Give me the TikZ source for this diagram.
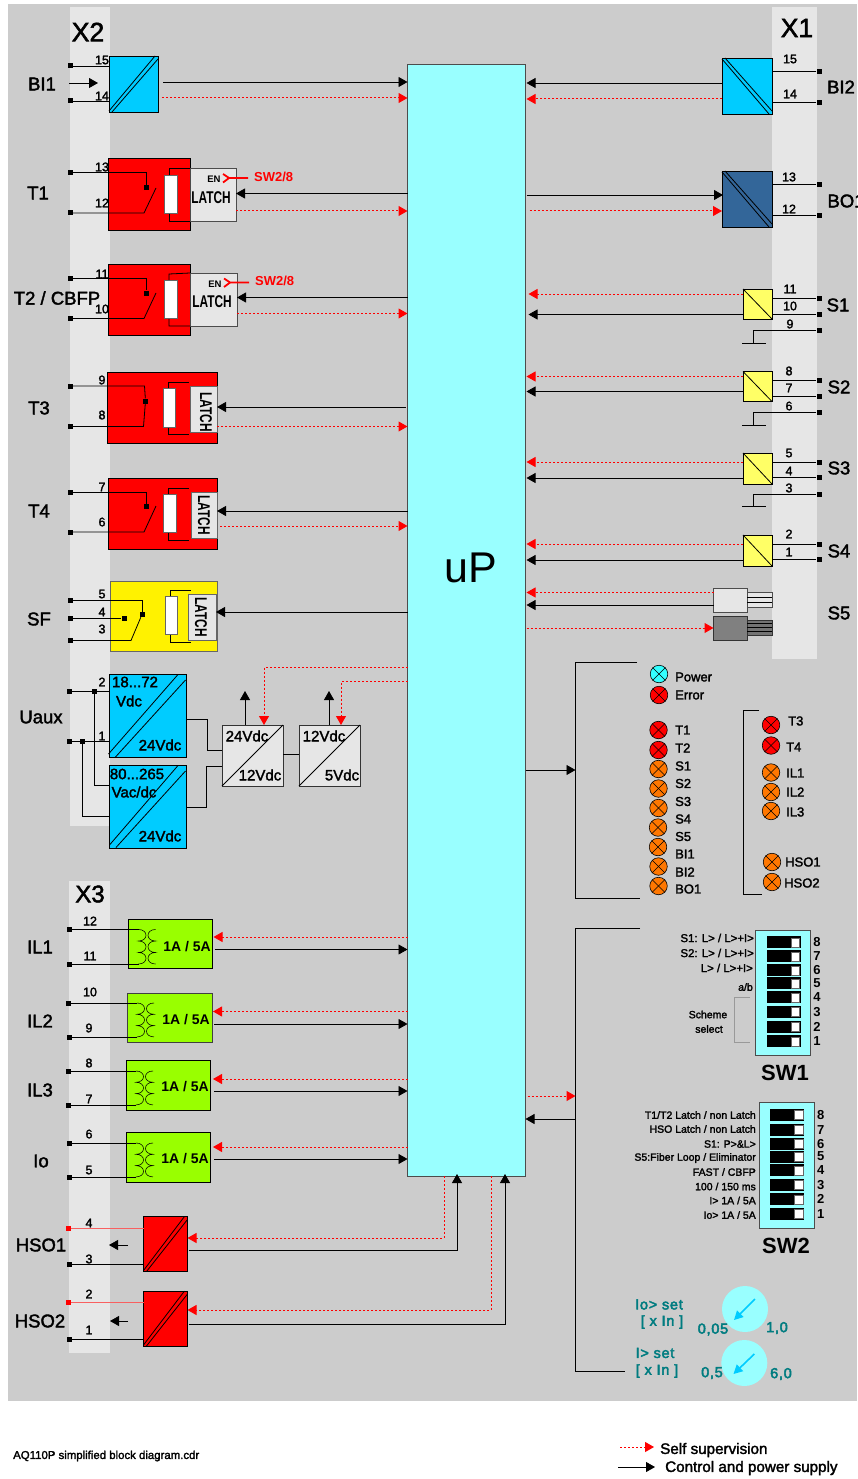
\documentclass[tikz,border=0pt]{standalone}
\usepackage{fontspec}
\setmainfont{Liberation Sans}
\newfontfamily\rg[FakeBold=2]{Liberation Sans}
\newfontfamily\dl[FakeBold=3,LetterSpace=5]{Liberation Sans}
\usetikzlibrary{arrows.meta}
\definecolor{bggray}{HTML}{CCCCCC}
\definecolor{strip}{HTML}{E6E6E6}
\definecolor{upc}{HTML}{99FFFF}
\definecolor{bluec}{HTML}{00CCFF}
\definecolor{navyc}{HTML}{336699}
\definecolor{yelc}{HTML}{FFFF66}
\definecolor{grn}{HTML}{99FF00}
\definecolor{oran}{HTML}{FF7700}
\definecolor{cyanl}{HTML}{33FFFF}
\definecolor{teal2}{HTML}{007C80}
\definecolor{pinkl}{HTML}{F86060}
\newcount\lblcnt
\newcommand{\bx}[6]{\pgfmathsetmacro\bxw{#5-#3}\pgfmathsetmacro\bxh{#6-#4}\node[#2,minimum width=\bxw pt,minimum height=\bxh pt,inner sep=0pt,outer sep=0pt] (#1) at ({(#3+#5)/2},{(#4+#6)/2}) {};}
\newcommand{\lbl}[4]{\global\advance\lblcnt by 1 \node[#1] (txt\the\lblcnt) at (#2,#3) {#4};}
\newcommand{\dblf}[2]{% double "/" diagonal
 \draw[wire] ([yshift=1pt]#1.south west) -- ([xshift=-#2 pt]#1.north east);
 \draw[wire] ([xshift=#2 pt]#1.south west) -- ([yshift=-#2 pt]#1.north east);}
\newcommand{\dblb}[2]{% double "\" diagonal
 \draw[wire] ([yshift=-1pt]#1.north west) -- ([xshift=-#2 pt]#1.south east);
 \draw[wire] ([xshift=#2 pt]#1.north west) -- ([yshift=#2 pt]#1.south east);}
\newcommand{\coil}[3]{% x, y1, bump height
 \draw[thinw] (#1,#2) .. controls +(10,0) and +(10,0) .. ++(0,#3) .. controls +(10,0) and +(10,0) .. ++(0,#3) .. controls +(10,0) and +(10,0) .. ++(0,#3);
 \draw[thinw] (#1+17,#2) .. controls +(-10,0) and +(-10,0) .. ++(0,#3) .. controls +(-10,0) and +(-10,0) .. ++(0,#3) .. controls +(-10,0) and +(-10,0) .. ++(0,#3);}
\newcommand{\led}[4]{\node[ledst,fill=#2] (#1) at (#3,#4) {};
 \draw[thinw] (#1.45) -- (#1.225); \draw[thinw] (#1.135) -- (#1.-45);}
\newcommand{\gnd}[3]{% name, terminal, y
 \coordinate (#1a) at (753,#3); \coordinate (#1b) at (742,#3); \coordinate (#1c) at (766,#3);
 \draw[wire] (#2) -- (#2 -| #1a) -- (#1a); \draw[wire] (#1b) -- (#1c);}
\tikzset{
 wire/.style={line width=.8pt,draw=black},
 thinw/.style={line width=.55pt,draw=black},
 ctl/.style={line width=.8pt,draw=black,-{Triangle[length=9pt,width=10pt]}},
 supv/.style={line width=1pt,draw=red,dash pattern=on 2pt off 2pt,-{Triangle[length=9pt,width=10pt,fill=red]}},
 term/.style={fill=black,inner sep=0pt,minimum size=5pt},
 rterm/.style={fill=red,inner sep=0pt,minimum size=5pt},
 ledst/.style={circle,draw=black,line width=.6pt,minimum size=17.5pt,inner sep=0pt},
 stripbox/.style={fill=strip},
 pbox/.style={draw=black,line width=.8pt},
 num/.style={font=\fontsize{12.5}{14}\selectfont\rg,inner sep=0pt},
 big/.style={font=\fontsize{18.5}{20}\selectfont\rg,inner sep=0pt},
 hdr/.style={font=\fontsize{26.5}{28}\selectfont\rg,inner sep=0pt},
 vtxt/.style={font=\fontsize{15}{16}\selectfont\rg,inner sep=0pt},
 ledt/.style={font=\fontsize{13}{14}\selectfont\rg,inner sep=0pt,anchor=west},
 swt/.style={font=\fontsize{10.5}{12}\selectfont\rg,inner sep=0pt,anchor=east},
 swu/.style={font=\fontsize{11.4}{12}\selectfont\rg,inner sep=0pt,anchor=east},
 swh/.style={font=\fontsize{22}{24}\selectfont\bfseries,inner sep=0pt},
 dialt/.style={font=\fontsize{14.5}{16}\selectfont\dl,text=teal2,inner sep=0pt},
 ent/.style={font=\fontsize{9.5}{10}\selectfont\bfseries,inner sep=0pt},
 swr/.style={font=\fontsize{13}{14}\selectfont\bfseries,text=red,inner sep=0pt,anchor=west},
 lat/.style={font=\fontsize{17}{18}\selectfont,inner sep=0pt},
 amp/.style={font=\fontsize{14}{16}\selectfont\bfseries,inner sep=0pt},
 enw/.style={draw=red,line width=1.8pt},
 togb/.style={fill=black,minimum width=34pt,minimum height=12pt,inner sep=0pt},
 knob/.style={fill=white,draw=black!60,line width=.4pt,minimum width=8.5pt,minimum height=9pt,inner sep=0pt},
 dial/.style={circle,fill=upc,minimum size=46pt,inner sep=0pt},
 dialar/.style={line width=1.6pt,draw=bluec,-{Triangle[length=9pt,width=9pt,fill=bluec]}},
 foot/.style={font=\fontsize{11.4}{12}\selectfont\rg,inner sep=0pt,anchor=west},
 legd/.style={font=\fontsize{15.2}{16}\selectfont\rg,inner sep=0pt,anchor=west},
}
\newcommand{\latch}{\scalebox{0.7}[1]{\bfseries LATCH}}
\begin{document}
\begin{tikzpicture}[x=1pt,y=-1pt]
\useasboundingbox (0,0) rectangle (857,1479);
\fill[white] (0,0) rectangle (857,1479);
\bx{bg}{fill=bggray}{8}{4}{857}{1401}
\bx{xtwo}{stripbox}{70}{7}{110}{826}
\bx{xone}{stripbox}{772}{7}{817}{659}
\bx{xthree}{stripbox}{69}{881}{110}{1353}
\lbl{hdr}{88}{32}{X2}
\lbl{hdr}{797}{28}{X1}
\lbl{hdr,font=\fontsize{24}{26}\selectfont\rg}{90}{894}{X3}
% uP
\node[fill=upc,draw=black!70,line width=.8pt,minimum width=118pt,minimum height=1112pt,inner sep=0pt,outer sep=0pt] (up) at (466.5,620) {};
\node[font=\fontsize{43}{45}\selectfont,inner sep=0pt] (uplab) at (471,568) {uP};

% BI1
\bx{bia}{pbox,fill=bluec}{109}{56}{158}{112}
\dblf{bia}{3}
\node[term] (t15) at (70,66) {};
\node[term] (t14) at (70,101) {};
\draw[wire] (t15) -- (t15 -| bia.west);
\draw[wire] (t14) -- (t14 -| bia.west);
\lbl{num}{102}{60}{15}
\lbl{num}{102}{96}{14}
\lbl{big}{42}{84}{BI1}
\coordinate (biin) at (69,83);
\coordinate (biin2) at (98,83);
\draw[ctl] (biin) -- (biin2);
\draw[ctl] ([xshift=5pt]bia.east |- 0,82) -- (up.west |- 0,82);
\draw[supv] ([xshift=4pt]bia.east |- 0,98) -- (up.west |- 0,98);

% T1
\bx{ta}{pbox,fill=red}{108}{158}{190}{230}
\bx{la}{pbox,draw=black!70,fill=strip}{190}{168}{236}{221}
\draw[wire] (la.north west) -- (169,168) -- (169,221) -- (la.south west);
\bx{ca}{draw=black!60,fill=white,line width=.6pt}{164}{175}{177}{213}
\node[term,minimum size=5pt] (ka) at (146,187.5) {};
\node[term] (t13) at (70,172.5) {};
\node[term] (t12) at (70,213) {};
\draw[wire] (t13) -- (t13 -| ka) -- (ka);
\coordinate (sa) at (156,188);
\draw[wire] (t12) -- (144,213) -- (sa);
\lbl{num}{102}{167}{13}
\lbl{num}{102}{203}{12}
\lbl{big}{38}{193}{T1}
\lbl{ent}{214}{179}{EN}
\lbl{lat}{211}{198}{\latch}
\node[swr] (swa) at (254,177) {SW2/8};
\coordinate (ena) at (229,178);
\draw[enw] (swa.west |- ena) ++(-6,0) -- (ena) -- (223,174);
\draw[enw] (ena) -- (223,182.5);
\draw[ctl] (up.west |- 0,193.5) -- (la.east |- 0,193.5);
\draw[supv] (la.east |- 0,211) -- (up.west |- 0,211);

% T2
\bx{tb}{pbox,fill=red}{108}{264}{190}{335}
\bx{lb}{pbox,draw=black!70,fill=strip}{190}{273}{237}{326}
\draw[wire] (lb.north west) -- (169,274) -- (169,326) -- (lb.south west);
\bx{cb}{draw=black!60,fill=white,line width=.6pt}{164}{280}{177}{318}
\node[term] (kb) at (146,293) {};
\node[term] (t11) at (70,278) {};
\node[term] (t10) at (70,318.5) {};
\draw[wire] (t11) -- (t11 -| kb) -- (kb);
\coordinate (sb) at (156,293);
\draw[wire] (t10) -- (144,318.5) -- (sb);
\lbl{num}{102}{274}{11}
\lbl{num}{102}{309}{10}
\lbl{big}{57}{298}{T2 / CBFP}
\lbl{ent}{215}{284}{EN}
\lbl{lat}{212}{302}{\latch}
\node[swr] (swb) at (255,281) {SW2/8};
\coordinate (enb) at (230,282.5);
\draw[enw] (swb.west |- enb) ++(-6,0) -- (enb) -- (224,278.5);
\draw[enw] (enb) -- (224,287);
\draw[ctl] (up.west |- 0,297.5) -- (lb.east |- 0,297.5);
\draw[supv] (lb.east |- 0,313.5) -- (up.west |- 0,313.5);

% T3
\bx{tc}{pbox,fill=red}{107}{372}{217}{443}
\bx{lc}{draw=black!60,fill=strip,line width=.8pt}{190}{386}{217}{432}
\draw[wire] (189,382) -- (168,382) -- (168,434) -- (189,434);
\bx{cc}{draw=black!60,fill=white,line width=.6pt}{163}{388}{175}{427}
\node[term] (kc) at (145.5,401) {};
\node[term] (t9) at (70,386) {};
\node[term] (t8) at (70,426.5) {};
\draw[wire] (t9) -- (144.5,386) -- (kc);
\draw[wire] (t8) -- (143.5,426.5) -- (kc);
\lbl{num}{102}{380}{9}
\lbl{num}{102}{415}{8}
\lbl{big}{39}{408}{T3}
\lbl{lat,rotate=-90}{206}{412}{\latch}
\draw[ctl] ([xshift=-2pt]up.west |- 0,407) -- (lc.east |- 0,407);
\draw[supv] (lc.east |- 0,426.5) -- (up.west |- 0,426.5);

% T4
\bx{td}{pbox,fill=red}{108}{478}{217}{549}
\bx{ld}{draw=black!60,fill=strip,line width=.8pt}{191}{492}{217}{538}
\draw[wire] (189,488) -- (168,488) -- (168,540) -- (189,540);
\bx{cd}{draw=black!60,fill=white,line width=.6pt}{163}{494}{176}{532}
\node[term] (kd) at (146,506.5) {};
\node[term] (t7) at (70,492) {};
\node[term] (t6) at (70.5,532) {};
\draw[wire] (t7) -- (t7 -| kd) -- (kd);
\coordinate (sd) at (156,506);
\draw[wire] (t6) -- (144,532) -- (sd);
\lbl{num}{102}{487}{7}
\lbl{num}{102}{522}{6}
\lbl{big}{39}{511}{T4}
\lbl{lat,rotate=-90}{204}{515}{\latch}
\draw[ctl] (up.west |- 0,511) -- (ld.east |- 0,511);
\draw[supv] ([xshift=3pt]ld.east |- 0,526) -- (up.west |- 0,526);

% SF
\bx{te}{draw=black!60,fill=yellow,line width=.8pt}{110}{581}{217}{651}
\bx{le}{draw=black!60,fill=strip,line width=.8pt}{188}{594}{216}{640}
\draw[wire] (191,590) -- (170,590) -- (170,642) -- (191,642);
\bx{ce}{draw=black!60,fill=white,line width=.6pt}{165}{596}{177}{634}
\node[term] (ke) at (142,614.5) {};
\node[term] (kf) at (124,618.5) {};
\node[term] (t5) at (70,600) {};
\node[term] (t4) at (70,618.5) {};
\node[term] (t3) at (70,640.5) {};
\draw[wire] (t5) -- (t5 -| ke) -- (ke);
\draw[wire] (t4) -- (kf);
\draw[wire] (t3) -- (131,640.5) -- (ke);
\lbl{num}{102}{594}{5}
\lbl{num}{102}{612}{4}
\lbl{num}{102}{629}{3}
\lbl{big}{39}{619}{SF}
\lbl{lat,rotate=-90}{201}{617}{\latch}
\draw[ctl] (up.west |- 0,612) -- (le.east |- 0,612);

% Uaux
\bx{ua}{pbox,fill=bluec}{109}{674}{186}{757}
\bx{ub}{pbox,fill=bluec}{109}{765}{186}{848}
\draw[wire] (108.5,754) -- (178,674.5);
\draw[wire] (115.5,757) -- (185.5,680);
\draw[wire] (109.5,845) -- (178,765.5);
\draw[wire] (116,847.5) -- (185.5,771);
\node[term] (t2u) at (69,691) {};
\node[term] (t1u) at (69,741.5) {};
\node[term] (ja) at (94,691) {};
\node[term] (jb) at (82.5,741.5) {};
\draw[wire] (t2u) -- (t2u -| ua.west);
\draw[wire] (t1u) -- (t1u -| ua.west);
\draw[wire] (ja) -- (94,785) -- (ub.west |- 0,785);
\draw[wire] (jb) -- (82.5,816) -- (ub.west |- 0,816);
\lbl{num}{102}{682}{2}
\lbl{num}{102}{736}{1}
\lbl{big}{41}{717}{Uaux}
\lbl{vtxt}{135}{682}{18...72}
\lbl{vtxt}{129}{701}{Vdc}
\lbl{vtxt}{160}{745}{24Vdc}
\lbl{vtxt}{137}{774}{80...265}
\lbl{vtxt}{134}{792}{Vac/dc}
\lbl{vtxt}{160}{836}{24Vdc}
\bx{va}{draw=black!80,fill=strip,line width=.8pt}{222}{725}{283}{786}
\bx{vb}{draw=black!80,fill=strip,line width=.8pt}{299}{725}{360}{786}
\draw[wire] (va.south west) -- (va.north east);
\draw[wire] (vb.south west) -- (vb.north east);
\lbl{vtxt}{247}{736}{24Vdc}
\lbl{vtxt}{260}{775}{12Vdc}
\lbl{vtxt}{324}{736}{12Vdc}
\lbl{vtxt}{342}{775}{5Vdc}
\draw[wire] (ua.east |- 0,719) -- (207,719) -- (207,750) -- (va.west |- 0,750);
\draw[wire] (ub.east |- 0,807) -- (206,807) -- (206,766) -- (va.west |- 0,766);
\draw[wire] (va.east |- 0,754) -- (vb.west |- 0,754);
\coordinate (upa) at (245,691);
\coordinate (upb) at (329,691);
\draw[ctl] (va.north -| upa) -- (upa);
\draw[ctl] (vb.north -| upb) -- (upb);
\coordinate (da) at (264,667);
\coordinate (db) at (341,681);
\draw[supv] (up.west |- da) -- (da) -- (va.north -| da);
\draw[supv] (up.west |- db) -- (db) -- (vb.north -| db);

% current inputs
\bx{ia}{pbox,fill=grn}{128.5}{919.5}{212.5}{968.5}
\bx{ib}{pbox,draw=black!75,fill=grn}{127}{993}{212}{1042}
\bx{ic}{pbox,fill=grn}{126}{1060.5}{210}{1110}
\bx{id}{pbox,fill=grn}{126}{1132.5}{210}{1182}
\node[term] (c12) at (69,929.5) {};
\node[term] (c11) at (69,964) {};
\node[term] (c10) at (68,1003) {};
\node[term] (c9) at (69,1037) {};
\node[term] (c8) at (68,1071) {};
\node[term] (c7) at (68,1105) {};
\node[term] (c6) at (69.5,1143) {};
\node[term] (c5) at (69,1177) {};
\draw[wire] (c12) -- (138.5,929.5); \draw[wire] (c11) -- (138.5,964);
\draw[wire] (c10) -- (137,1003); \draw[wire] (c9) -- (137,1037);
\draw[wire] (c8) -- (136,1071); \draw[wire] (c7) -- (136,1105);
\draw[wire] (c6) -- (136,1143); \draw[wire] (c5) -- (136,1177);
\coil{138.5}{929.5}{11.5}
\coil{137}{1003}{11.3}
\coil{136}{1071}{11.3}
\coil{136}{1143}{11.3}
\lbl{num}{90}{921}{12}
\lbl{num}{90}{956}{11}
\lbl{num}{90}{992}{10}
\lbl{num}{89}{1028}{9}
\lbl{num}{89}{1063}{8}
\lbl{num}{89}{1099}{7}
\lbl{num}{89}{1134}{6}
\lbl{num}{89}{1170}{5}
\lbl{big}{40}{947}{IL1}
\lbl{big}{40}{1021}{IL2}
\lbl{big}{40}{1090}{IL3}
\lbl{big}{41}{1161}{Io}
\lbl{amp}{187}{947}{1A / 5A}
\lbl{amp}{186}{1020}{1A / 5A}
\lbl{amp}{185}{1087}{1A / 5A}
\lbl{amp}{185}{1159}{1A / 5A}
\draw[supv] (up.west |- 0,937) -- ([xshift=1pt]ia.east |- 0,937);
\draw[ctl] ([xshift=2pt]ia.east |- 0,949.5) -- (up.west |- 0,949.5);
\draw[supv] (up.west |- 0,1011.5) -- ([xshift=1pt]ib.east |- 0,1011.5);
\draw[ctl] ([xshift=2pt]ib.east |- 0,1024) -- (up.west |- 0,1024);
\draw[supv] (up.west |- 0,1079) -- ([xshift=3pt]ic.east |- 0,1079);
\draw[ctl] ([xshift=4pt]ic.east |- 0,1091) -- (up.west |- 0,1091);
\draw[supv] (up.west |- 0,1147) -- ([xshift=3pt]id.east |- 0,1147);
\draw[ctl] ([xshift=4pt]id.east |- 0,1159) -- (up.west |- 0,1159);

% HSO
\bx{ha}{pbox,fill=red}{143.5}{1216.5}{187.5}{1271.5}
\bx{hb}{pbox,fill=red}{143.5}{1291}{187.5}{1346}
\dblf{ha}{3}
\dblf{hb}{3}
\node[rterm] (h4) at (68,1228) {};
\node[term] (h3) at (69.5,1264.5) {};
\node[rterm] (h2) at (68,1302.5) {};
\node[term] (h1) at (69.5,1339) {};
\draw[line width=.9pt,draw=pinkl] (h4) -- (h4 -| ha.west);
\draw[wire] (h3) -- (h3 -| ha.west);
\draw[line width=.9pt,draw=pinkl] (h2) -- (h2 -| hb.west);
\draw[wire] (h1) -- (h1 -| hb.west);
\lbl{num}{89}{1223}{4}
\lbl{num}{89}{1259}{3}
\lbl{num}{89}{1294}{2}
\lbl{num}{89}{1330}{1}
\lbl{big}{41}{1245}{HSO1}
\lbl{big}{40}{1321}{HSO2}
\coordinate (haa) at (128,1245); \coordinate (hab) at (109,1245);
\coordinate (hba) at (128,1321); \coordinate (hbb) at (110,1321);
\draw[ctl] (haa) -- (hab);
\draw[ctl] (hba) -- (hbb);
\coordinate (la1) at (444,1238); \coordinate (la2) at (457,1250.5);
\coordinate (lb1) at (491,1310); \coordinate (lb2) at (505,1324);
\draw[supv] (up.south -| la1) -- (la1) -- (ha.east |- la1);
\draw[ctl] ([xshift=1pt]ha.east |- la2) -- (la2) -- ([yshift=2pt]up.south -| la2);
\draw[supv] (up.south -| lb1) -- (lb1) -- (hb.east |- lb1);
\draw[ctl] ([xshift=1pt]hb.east |- lb2) -- (lb2) -- ([yshift=2pt]up.south -| lb2);

% Right side: BI2
\bx{bib}{pbox,fill=bluec}{722}{58}{772}{114}
\dblb{bib}{3}
\node[term] (r15) at (819,71.5) {};
\node[term] (r14) at (819,102.5) {};
\draw[wire] (r15) -- (r15 -| bib.east);
\draw[wire] (r14) -- (r14 -| bib.east);
\lbl{num}{790}{59}{15}
\lbl{num}{790}{94}{14}
\lbl{big}{841}{87}{BI2}
\draw[ctl] (bib.west |- 0,83) -- ([xshift=1pt]up.east |- 0,83);
\draw[supv] (bib.west |- 0,99) -- ([xshift=1pt]up.east |- 0,99);
% BO1
\bx{boa}{pbox,fill=navyc}{722}{171}{772}{227}
\dblb{boa}{3}
\node[term] (r13) at (819,184.5) {};
\node[term] (r12) at (819,215.5) {};
\draw[wire] (r13) -- (r13 -| boa.east);
\draw[wire] (r12) -- (r12 -| boa.east);
\lbl{num}{789}{177}{13}
\lbl{num}{789}{209}{12}
\lbl{big}{846}{201}{BO1}
\draw[ctl] ([xshift=1pt]up.east |- 0,195) -- ([xshift=1pt]boa.west |- 0,195);
\draw[supv] ([xshift=4pt]up.east |- 0,211) -- (boa.west |- 0,211);
% S1..S4
\bx{sa}{pbox,fill=yelc}{743}{289}{772}{319}
\bx{sb}{pbox,fill=yelc}{743}{371.5}{772}{401.5}
\bx{sc}{pbox,fill=yelc}{743}{453}{772}{484}
\bx{sd}{pbox,fill=yelc}{743}{535}{772}{566}
\draw[wire] (sa.north west) -- (sa.south east);
\draw[wire] (sb.north west) -- (sb.south east);
\draw[wire] (sc.north west) -- (sc.south east);
\draw[wire] (sd.north west) -- (sd.south east);
\node[term] (p11) at (819,298) {};
\node[term] (p10) at (819,314) {};
\node[term] (p9) at (819,330) {};
\node[term] (p8) at (819,380.5) {};
\node[term] (p7) at (819,396) {};
\node[term] (p6) at (819,412) {};
\node[term] (p5) at (819,462) {};
\node[term] (p4) at (819,477.5) {};
\node[term] (p3) at (819,494) {};
\node[term] (p2) at (819,544) {};
\node[term] (p1) at (819,559.5) {};
\foreach \q/\b in {p11/sa,p10/sa,p8/sb,p7/sb,p5/sc,p4/sc,p2/sd,p1/sd}{\draw[wire] (\q) -- (\q -| \b.east);}
\gnd{ga}{p9}{343}
\gnd{gb}{p6}{425}
\gnd{gc}{p3}{506.5}
\lbl{num}{790}{289}{11}
\lbl{num}{790}{306}{10}
\lbl{num}{790}{324}{9}
\lbl{num}{789}{371}{8}
\lbl{num}{789}{388}{7}
\lbl{num}{789}{406}{6}
\lbl{num}{789}{453}{5}
\lbl{num}{789}{471}{4}
\lbl{num}{789}{488}{3}
\lbl{num}{789}{534}{2}
\lbl{num}{789}{552}{1}
\lbl{big}{838}{305}{S1}
\lbl{big}{839}{387}{S2}
\lbl{big}{839}{468}{S3}
\lbl{big}{839}{551}{S4}
\lbl{big}{839}{613}{S5}
\draw[supv] (sa.west |- 0,294) -- ([xshift=3pt]up.east |- 0,294);
\draw[ctl] (sa.west |- 0,314.5) -- ([xshift=3pt]up.east |- 0,314.5);
\draw[supv] (sb.west |- 0,376.5) -- ([xshift=1pt]up.east |- 0,376.5);
\draw[ctl] (sb.west |- 0,391.5) -- ([xshift=1pt]up.east |- 0,391.5);
\draw[supv] (sc.west |- 0,462) -- ([xshift=1pt]up.east |- 0,462);
\draw[ctl] (sc.west |- 0,478) -- ([xshift=1pt]up.east |- 0,478);
\draw[supv] (sd.west |- 0,544) -- ([xshift=1pt]up.east |- 0,544);
\draw[ctl] (sd.west |- 0,560) -- ([xshift=1pt]up.east |- 0,560);
% S5
\bx{fa}{draw=black!70,fill=strip,line width=.8pt}{713.5}{588.5}{747}{612}
\bx{fc}{draw=black!70,fill=strip,line width=.7pt}{747}{592.5}{772}{607.5}
\bx{fb}{draw=black!80,fill=black!50,line width=.8pt}{713.5}{616}{747}{640}
\bx{fd}{draw=black!80,fill=black!55,line width=.7pt}{747}{620}{772}{635}
\foreach \y in {597.5,602.5}{\draw[thinw] (fc.west |- 0,\y) -- (fc.east |- 0,\y);}
\foreach \y in {623.5,627.5,631.5}{\draw[line width=1pt,draw=black] (fd.west |- 0,\y) -- (fd.east |- 0,\y);}
\draw[supv] (fa.west |- 0,592.5) -- ([xshift=1pt]up.east |- 0,592.5);
\draw[ctl] (fa.west |- 0,605) -- ([xshift=1pt]up.east |- 0,605);
\draw[supv] ([xshift=1pt]up.east |- 0,628) -- (fb.west |- 0,628);

% LED group
\coordinate (ba) at (637,662); \coordinate (bb) at (575.5,662); \coordinate (bc) at (575.5,898); \coordinate (bd) at (640,898);
\draw[wire] (ba) -- (bb) -- (bc) -- (bd);
\draw[ctl] (up.east |- 0,770) -- (bb |- 0,770);
\led{lpow}{cyanl}{659}{674}
\led{lerr}{red}{659}{695}
\led{lt1}{red}{658.5}{730}
\led{lt2}{red}{658.5}{750}
\led{ls1}{oran}{658.5}{769}
\led{ls2}{oran}{658.5}{788.5}
\led{ls3}{oran}{658.5}{808}
\led{ls4}{oran}{658}{827.5}
\led{ls5}{oran}{658}{847}
\led{lb1}{oran}{658.5}{866.5}
\led{lb2}{oran}{658.5}{886}
\lbl{ledt}{675}{677}{Power}
\lbl{ledt}{675}{695}{Error}
\lbl{ledt}{675}{730}{T1}
\lbl{ledt}{675}{748}{T2}
\lbl{ledt}{675}{766}{S1}
\lbl{ledt}{675}{783.5}{S2}
\lbl{ledt}{675}{801.5}{S3}
\lbl{ledt}{675}{819}{S4}
\lbl{ledt}{675}{836.5}{S5}
\lbl{ledt}{675}{854}{BI1}
\lbl{ledt}{675}{872}{BI2}
\lbl{ledt}{675}{889}{BO1}
\coordinate (ca) at (759,710); \coordinate (cb) at (743,710); \coordinate (cc) at (743,894); \coordinate (cd) at (762,894);
\draw[wire] (ca) -- (cb) -- (cc) -- (cd);
\led{lt3}{red}{771}{725}
\led{lt4}{red}{771}{745.5}
\led{li1}{oran}{771}{772.5}
\led{li2}{oran}{771}{792}
\led{li3}{oran}{771}{811}
\led{lh1}{oran}{772}{862}
\led{lh2}{oran}{772}{882}
\lbl{ledt}{788}{721}{T3}
\lbl{ledt}{786}{747}{T4}
\lbl{ledt}{786}{773}{IL1}
\lbl{ledt}{786}{792}{IL2}
\lbl{ledt}{786}{812}{IL3}
\lbl{ledt}{785}{862}{HSO1}
\lbl{ledt}{784}{883}{HSO2}

% Switch group
\coordinate (ea) at (640,928); \coordinate (eb) at (575.5,928); \coordinate (ec) at (575.5,1371); \coordinate (ed) at (625,1371);
\draw[wire] (ea) -- (eb) -- (ec) -- (ed);
\draw[supv] ([xshift=2pt]up.east |- 0,1096) -- (eb |- 0,1096);
\draw[ctl] (eb |- 0,1119) -- (up.east |- 0,1119);
\bx{swone}{draw=black!70,fill=upc,line width=.8pt}{755.7}{930}{810.7}{1055.7}
\foreach \n/\y in {8/942.3,7/956.3,6/970.3,5/983.3,4/997.3,3/1012,2/1026.7,1/1041.3}{
 \node[togb] (sa\n) at (783.7,\y) {};
 \node[knob] (sak\n) at (795,\y) {};
 \node[num,font=\fontsize{13}{14}\selectfont\bfseries] (san\n) at (817,\y) {\n};
}
\lbl{swu}{754}{938}{S1: L> / L>+I>}
\lbl{swu}{754}{953}{S2: L> / L>+I>}
\lbl{swu}{753}{968}{L> / L>+I>}
\lbl{swt}{753}{987}{a/b}
\lbl{swt,anchor=center}{708}{1014.5}{Scheme}
\lbl{swt,anchor=center}{709}{1029}{select}
\coordinate (fa1) at (750,997); \coordinate (fa2) at (734,997); \coordinate (fa3) at (734,1042); \coordinate (fa4) at (750,1042);
\draw[line width=.8pt,draw=black!40] (fa1) -- (fa2) -- (fa3) -- (fa4);
\lbl{swh}{785}{1073}{SW1}
\bx{swtwo}{draw=black!70,fill=upc,line width=.8pt}{759.3}{1102.7}{814}{1228.3}
\foreach \n/\y in {8/1115,7/1129.7,6/1144,5/1156.5,4/1170.3,3/1185,2/1199.3,1/1214}{
 \node[togb] (sb\n) at (787.2,\y) {};
 \node[knob] (sbk\n) at (798.5,\y) {};
 \node[num,font=\fontsize{13}{14}\selectfont\bfseries] (sbn\n) at (820.7,\y) {\n};
}
\lbl{swt}{756}{1115}{T1/T2 Latch / non Latch}
\lbl{swt}{756}{1129}{HSO Latch / non Latch}
\lbl{swt}{756}{1144}{S1: P>\&L>}
\lbl{swt}{756}{1158}{S5:Fiber Loop / Eliminator}
\lbl{swt}{756}{1172}{FAST / CBFP}
\lbl{swt}{756}{1186.5}{100 / 150 ms}
\lbl{swt}{756}{1200.5}{I> 1A / 5A}
\lbl{swt}{756}{1215}{Io> 1A / 5A}
\lbl{swh}{786}{1246}{SW2}

% Dials
\node[dial] (dia) at (745,1309) {};
\node[dial] (dib) at (744.3,1363) {};
\coordinate (dia1) at (755,1299); \coordinate (dia2) at (734,1320);
\coordinate (dib1) at (754.3,1354); \coordinate (dib2) at (733.5,1374);
\draw[dialar] (dia1) -- (dia2);
\draw[dialar] (dib1) -- (dib2);
\lbl{dialt}{659}{1304.5}{Io> set}
\lbl{dialt}{662}{1322}{[ x In ]}
\lbl{dialt}{713}{1329.5}{0,05}
\lbl{dialt}{777}{1328}{1,0}
\lbl{dialt}{655}{1353}{I> set}
\lbl{dialt}{657}{1371}{[ x In ]}
\lbl{dialt}{712}{1373}{0,5}
\lbl{dialt}{781}{1374}{6,0}

% Footer
\lbl{foot}{13}{1456}{AQ110P simplified block diagram.cdr}
\coordinate (lg1) at (620,1447); \coordinate (lg2) at (654,1447);
\coordinate (lg3) at (618,1467); \coordinate (lg4) at (655,1467);
\draw[supv] (lg1) -- (lg2);
\draw[ctl] (lg3) -- (lg4);
\lbl{legd}{660}{1450}{Self supervision}
\lbl{legd}{665}{1468}{Control and power supply}
\end{tikzpicture}
\end{document}
